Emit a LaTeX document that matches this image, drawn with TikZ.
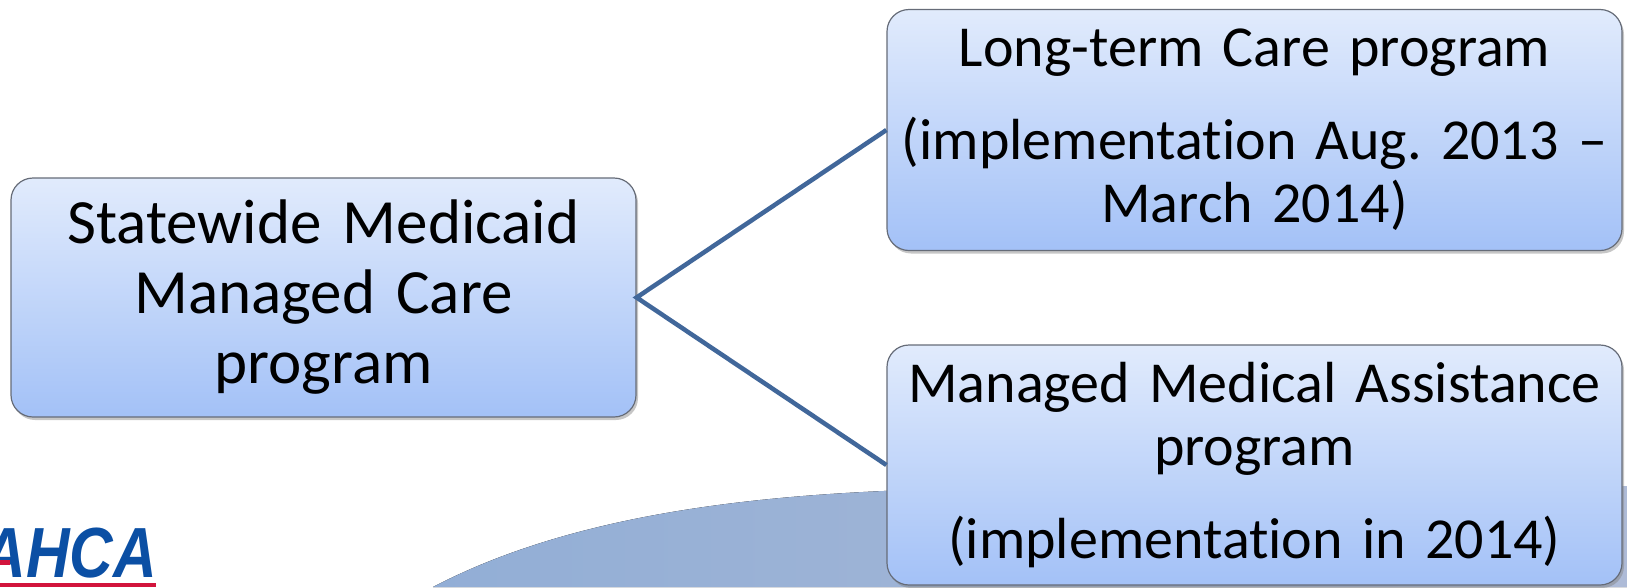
\documentclass[tikz,border=0pt]{standalone}
\usepackage{fontspec}
\setmainfont{Carlito}[Ligatures=NoCommon]
\newfontfamily\logofont{Liberation Sans}
\usetikzlibrary{shadows}
\frenchspacing

\definecolor{boxtop}{HTML}{E1EBFC}
\definecolor{boxbot}{HTML}{A3C1F7}
\definecolor{boxline}{HTML}{666C78}
\definecolor{linkblue}{HTML}{41679A}
\definecolor{arcleft}{HTML}{92AED6}
\definecolor{arcright}{HTML}{AEBBD7}
\definecolor{logoblue}{HTML}{0B4FA4}
\definecolor{logored}{HTML}{D2143C}

\tikzset{
	progbox/.style={draw=boxline, line width=1.2pt, rounded corners=22pt,
		top color=boxtop, bottom color=boxbot, align=center, inner sep=0pt,
		drop shadow={shadow xshift=2pt, shadow yshift=-3pt, opacity=.45, fill=gray}},
	link/.style={draw=linkblue, line width=4.5pt}
}

\begin{document}
\begin{tikzpicture}[x=1pt,y=-1pt]
\useasboundingbox (0,0) rectangle (1627,587);
% background arc
\fill[left color=arcleft, right color=arcright] (433,587) .. controls (590,505) and (800,490) .. (1000,488) -- (1627,486) -- (1627,587) -- cycle;

\node[progbox, minimum width=625pt, minimum height=239pt, text width=600pt,
	font=\fontsize{63}{70}\selectfont] (smmc) at (323.5,297.5)
	{Statewide Medicaid\\Managed Care\\program};
\node[progbox, minimum width=735pt, minimum height=241pt, text width=720pt,
	font=\fontsize{58}{63}\selectfont] (ltc) at (1254.5,130)
	{Long-term Care program\\[30pt](implementation Aug. 2013 –\\March 2014)};
\node[progbox, minimum width=735pt, minimum height=240pt, text width=720pt,
	font=\fontsize{58}{63}\selectfont] (mma) at (1254.5,465)
	{Managed Medical Assistance\\program\\[30pt](implementation in 2014)};

\draw[link] (ltc.west) -- (smmc.east) -- (mma.west);

% logo
\node[anchor=base east, inner sep=0pt, text=logoblue, xscale=.85,
	font=\logofont\bfseries\itshape\fontsize{71}{71}\selectfont] (logo) at (157,577) {AHCA};
\fill[logored] (0,583) rectangle (156,587);
\fill[logored] (0,560) rectangle (10,565);
\end{tikzpicture}
\end{document}
